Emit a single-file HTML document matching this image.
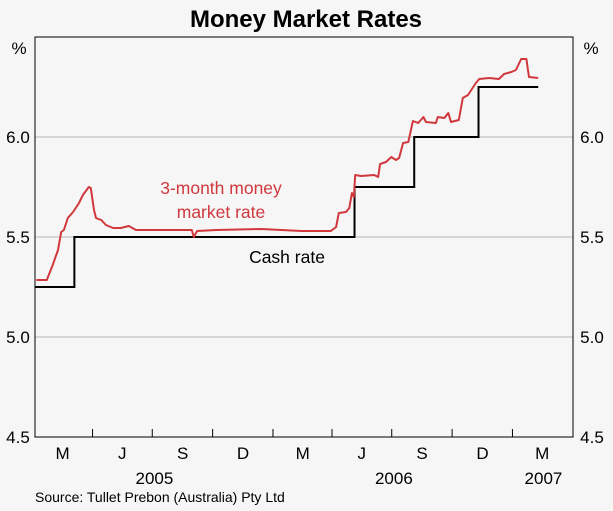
<!DOCTYPE html>
<html><head><meta charset="utf-8"><style>
body{margin:0;background:#f6f6f6;}
svg{display:block;font-family:"Liberation Sans",Arial,sans-serif;}
</style></head><body>
<svg id="chart" width="613" height="511">
<rect width="613" height="511" fill="#f6f6f6"/>
<text x="306" y="27" text-anchor="middle" font-size="24" font-weight="bold" fill="#000">Money Market Rates</text>
<g id="grid"></g>
<g id="series"></g>
<rect x="35" y="37" width="538" height="400" fill="none" stroke="#000" stroke-width="1"/>
<g id="axes"></g>
<text x="221" y="194" text-anchor="middle" font-size="17.5" fill="#d0383d">3-month money</text>
<text x="221" y="218" text-anchor="middle" font-size="17.5" fill="#d0383d">market rate</text>
<text x="287" y="263" text-anchor="middle" font-size="17.5" fill="#000">Cash rate</text>
<text x="19" y="54" text-anchor="middle" font-size="17">%</text>
<text x="591" y="54" text-anchor="middle" font-size="17">%</text>
<text x="35" y="502" font-size="14">Source: Tullet Prebon (Australia) Pty Ltd</text>
</svg>
<script>
const yTicks=[4.5,5.0,5.5,6.0,6.5];
const yTickLabels=["4.5","5.0","5.5","6.0",""];
const quarterTickDays=[90,181,273,365,455,546,638,730];
const monthLabels=["M","J","S","D","M","J","S","D","M"];
const monthLabelDays=[42,133,225,317,408,498,590,682,773];
const yearLabels=["2005","2006","2007"];
const yearLabelDays=[182,547,775];
const mmDays=[2,18,27,35,40,44,50,58,67,73,82,85,90,93,101,108,119,131,143,154,207,239,242,247,276,345,406,451,459,463,474,479,483,486,488,497,517,523,526,535,543,550,555,561,569,576,584,592,596,611,614,624,630,634,646,652,660,665,672,677,692,707,715,726,733,741,749,753,767];
const mmVals=[5.285,5.285,5.36,5.435,5.525,5.535,5.595,5.625,5.67,5.71,5.75,5.745,5.635,5.595,5.585,5.56,5.545,5.545,5.555,5.535,5.535,5.535,5.5,5.53,5.535,5.54,5.53,5.53,5.55,5.62,5.625,5.645,5.72,5.70,5.81,5.805,5.81,5.80,5.865,5.875,5.90,5.885,5.895,5.97,5.975,6.08,6.07,6.10,6.075,6.07,6.10,6.095,6.12,6.075,6.085,6.195,6.21,6.235,6.27,6.29,6.295,6.29,6.315,6.325,6.335,6.39,6.39,6.30,6.295];
const cashDays=[0,60,487,578,676,767];
const cashVals=[5.25,5.5,5.75,6.0,6.25,6.25];

const NS="http://www.w3.org/2000/svg";
const X0=35,X1=573,Y0=37,Y1=437,DMAX=820;
function xs(d){return X0+d*(X1-X0)/DMAX;}
function ys(v){return Y0+(6.5-v)*(Y1-Y0)/2;}
function mk(tag,attrs,parent){const e=document.createElementNS(NS,tag);for(const k in attrs)e.setAttribute(k,attrs[k]);parent.appendChild(e);return e;}
const grid=document.getElementById('grid'),axes=document.getElementById('axes'),series=document.getElementById('series');
yTicks.forEach((v,i)=>{
  if(v>4.5&&v<6.5){const l=mk('line',{x1:X0,x2:X1,y1:ys(v),y2:ys(v),stroke:'#b8b8b8','stroke-width':1},grid);
  
  }
  if(yTickLabels[i]){
    const a=mk('text',{x:18,y:ys(v)+6,'text-anchor':'middle','font-size':17},axes);a.textContent=yTickLabels[i];
    
    
    const b=mk('text',{x:592,y:ys(v)+6,'text-anchor':'middle','font-size':17},axes);b.textContent=yTickLabels[i];
    
    
  }
});
quarterTickDays.forEach(d=>{const t=mk('line',{x1:xs(d)-1.5,x2:xs(d)-1.5,y1:Y1,y2:Y1-8,stroke:'#000','stroke-width':1},axes);
  
  });
monthLabels.forEach((m,i)=>{const t=mk('text',{x:xs(monthLabelDays[i]),y:459,'text-anchor':'middle','font-size':17},axes);t.textContent=m;
  
  });
yearLabels.forEach((m,i)=>{const t=mk('text',{x:xs(yearLabelDays[i]),y:484,'text-anchor':'middle','font-size':17},axes);t.textContent=m;
  
  });
let cp='';cashDays.forEach((d,i)=>{if(i===0)cp+='M'+xs(d)+','+ys(cashVals[i]);else cp+=' H'+xs(d)+' V'+ys(cashVals[i]);});
const c=mk('path',{d:cp,fill:'none',stroke:'#000','stroke-width':2},series);


const mp=mmDays.map((d,i)=>(i?'L':'M')+xs(d).toFixed(1)+','+ys(mmVals[i]).toFixed(1)).join(' ');
const m=mk('path',{d:mp,fill:'none',stroke:'#d0383d','stroke-width':2,'stroke-linejoin':'round'},series);


</script>
</body></html>
